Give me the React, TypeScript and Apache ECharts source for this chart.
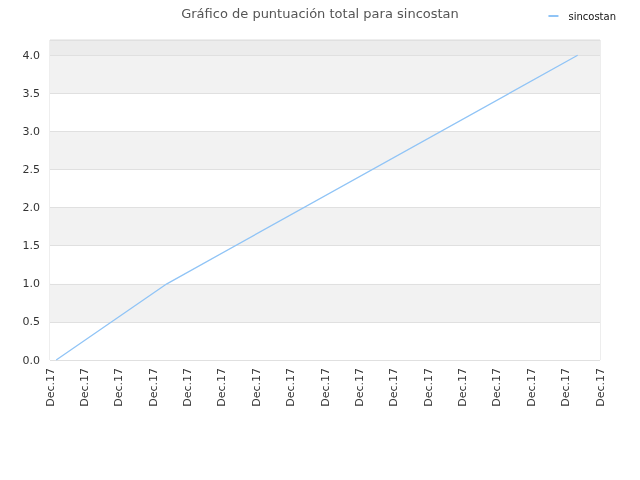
import React, { useEffect, useRef } from "react";
import * as echarts from "echarts";

const seriesName = "sincostan";
const titleText = "Gráfico de puntuación total para sincostan";
// x positions on a 0..16 tick scale, each tick labelled "Dec.17"
const pointX = [0.18, 3.4, 15.35];
const pointY = [0, 1.0, 4.0];
const tickLabel = "Dec.17";

const App: React.FC = () => {
  const chartRef = useRef<HTMLDivElement>(null);

  useEffect(() => {
    if (!chartRef.current) return;
    const chart = echarts.init(chartRef.current, null, { renderer: "svg" });

    chart.setOption({
      animation: false,
      textStyle: { fontFamily: "DejaVu Sans" },
      title: {
        text: titleText,
        left: "center",
        top: 2,
        textStyle: { fontSize: 13, fontWeight: "normal", color: "#555" },
      },
      legend: {
        data: [seriesName],
        right: 19,
        top: 6,
        icon: "rect",
        itemWidth: 10,
        itemHeight: 2,
        textStyle: { fontSize: 10, color: "#111", padding: [0, 0, 0, 5] },
      },
      grid: {
        left: 50,
        right: 40,
        top: 40,
        bottom: 120,
        show: true,
        borderColor: "#dcdcdc",
        borderWidth: 1,
      },
      xAxis: {
        type: "value",
        min: 0,
        max: 16,
        interval: 1,
        axisLine: { show: false },
        axisTick: { show: false },
        splitLine: { show: false },
        axisLabel: {
          rotate: 90,
          fontSize: 11,
          color: "#333",
          margin: 8,
          formatter: () => tickLabel,
        },
      },
      yAxis: {
        type: "value",
        min: 0,
        max: 4.2,
        interval: 0.5,
        axisLine: { show: false },
        axisTick: { show: false },
        axisLabel: {
          fontSize: 11,
          color: "#333",
          margin: 10,
          showMaxLabel: false,
          formatter: (v: number) => v.toFixed(1),
        },
        splitLine: { show: true, lineStyle: { color: "#e0e0e0" } },
        splitArea: {
          show: true,
          areaStyle: {
            color: [
              "#ffffff",
              "#f2f2f2",
              "#ffffff",
              "#f2f2f2",
              "#ffffff",
              "#f2f2f2",
              "#ffffff",
              "#f2f2f2",
              "#ececec",
            ],
          },
        },
      },
      series: [
        {
          name: seriesName,
          type: "line",
          data: pointX.map((x, i) => [x, pointY[i]]),
          showSymbol: false,
          symbol: "none",
          lineStyle: { color: "#90c4f6", width: 1.3 },
          itemStyle: { color: "#90c4f6" },
        },
      ],
    });

    return () => {
      chart.dispose();
    };
  }, []);

  return (
    <div
      ref={chartRef}
      style={{ position: "fixed", left: 0, top: 0, width: 640, height: 480 }}
    />
  );
};

export default App;
